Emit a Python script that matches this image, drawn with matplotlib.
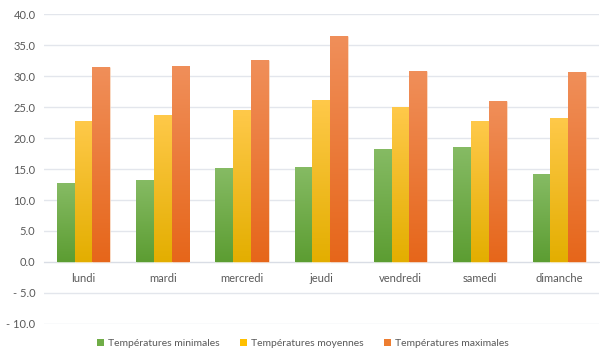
import numpy as np
import matplotlib
matplotlib.use("Agg")
import matplotlib.pyplot as plt
from matplotlib.colors import LinearSegmentedColormap
from matplotlib.ticker import FuncFormatter

jours = ["lundi", "mardi", "mercredi", "jeudi", "vendredi", "samedi", "dimanche"]
t_min = [12.7, 13.3, 15.1, 15.4, 18.3, 18.5, 14.2]
t_moy = [22.8, 23.8, 24.5, 26.2, 25.0, 22.7, 23.3]
t_max = [31.5, 31.7, 32.6, 36.4, 30.9, 26.0, 30.7]
series_names = ["Températures minimales", "Températures moyennes", "Températures maximales"]
y_ticks = [-10, -5, 0, 5, 10, 15, 20, 25, 30, 35, 40]

plt.rcParams['font.family'] = ['Lato', 'DejaVu Sans']

fig = plt.figure(figsize=(6.0, 3.54), dpi=100)
ax = fig.add_axes([0.073, 0.085, 0.925, 0.875])

grads = [("#86bb64", "#5c9d32", "#70ad47"),
         ("#ffc94a", "#e3ae00", "#ffc000"),
         ("#f08f5a", "#e6661a", "#ed7d31")]

x = np.arange(len(jours))
w = 0.224
data = [t_min, t_moy, t_max]
handles = []
for i, (vals, (ctop, cbot, cbase)) in enumerate(zip(data, grads)):
    bars = ax.bar(x + (i - 1) * w, vals, width=w, color=cbase,
                  edgecolor=(1, 1, 1, 0.45), linewidth=0.8, zorder=3,
                  label=series_names[i])
    cmap = LinearSegmentedColormap.from_list("g%d" % i, [cbot, ctop])
    grad = np.linspace(0, 1, 256).reshape(-1, 1)
    for b in bars:
        x0, y0 = b.get_x(), b.get_y()
        bw, bh = b.get_width(), b.get_height()
        im = ax.imshow(grad, cmap=cmap, aspect='auto', origin='lower',
                       extent=[x0, x0 + bw, y0, y0 + bh], zorder=3.5,
                       interpolation='bilinear')
        im.set_clip_path(b)
    handles.append(bars)

ax.set_xlim(-0.5, len(jours) - 0.5)
ax.set_ylim(-10, 40)
ax.set_yticks(y_ticks)
ax.yaxis.set_major_formatter(FuncFormatter(
    lambda v, p: ("- %.1f" % abs(v)) if v < 0 else "%.1f" % v))
ax.grid(axis='y', color='#e3e6ec', linewidth=1.0, zorder=0)
ax.set_axisbelow(True)

for s in ['top', 'right', 'left']:
    ax.spines[s].set_visible(False)
ax.spines['bottom'].set_position(('data', 0))
ax.spines['bottom'].set_color('#d9dde5')
ax.spines['bottom'].set_zorder(2)

ax.set_xticks(x)
ax.set_xticklabels(jours)
ax.tick_params(axis='x', length=0, pad=8, labelsize=8, labelcolor='#595959')
ax.tick_params(axis='y', length=0, pad=6, labelsize=8, labelcolor='#595959')

leg = fig.legend(handles=handles, labels=series_names, loc='lower center',
                 bbox_to_anchor=(0.505, -0.01), ncol=3, frameon=False,
                 fontsize=7.5, handlelength=0.7, handleheight=0.7,
                 handletextpad=0.4, columnspacing=1.9, labelcolor='#595959')
for h in leg.legend_handles:
    h.set_edgecolor('none')

fig.savefig("out.png", dpi=100)
